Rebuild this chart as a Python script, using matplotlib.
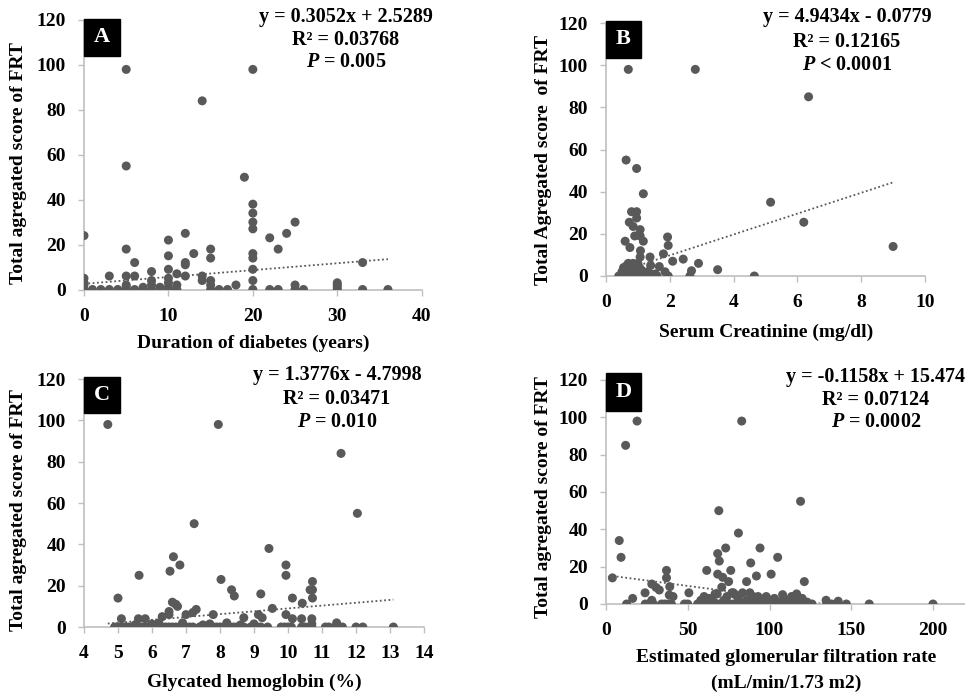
import matplotlib
matplotlib.use('Agg')
import matplotlib.pyplot as plt
from matplotlib.patches import Rectangle

plt.rcParams['font.family'] = 'Liberation Serif'
plt.rcParams['font.weight'] = 'bold'
plt.rcParams['font.size'] = 14
plt.rcParams['mathtext.fontset'] = 'custom'
plt.rcParams['mathtext.it'] = 'Liberation Serif:italic:bold'
plt.rcParams['mathtext.rm'] = 'Liberation Serif:bold'

W, H = 965, 694
DOT = '#595959'
AXC = '#BFBFBF'

# ---- A: duration of diabetes
dur_x = [0, 0, 0, 0, 0, 1, 2, 3, 3, 4, 5, 5, 5, 5, 5, 5, 5, 6, 6, 6, 7, 7, 8, 8, 8, 8, 9,
         10, 10, 10, 10, 10, 10, 10, 11, 11, 11, 12, 12, 12, 12, 13, 14, 14, 14,
         15, 15, 15, 15, 15, 16, 17, 18, 19, 20, 20, 20, 20, 20, 20, 20, 20, 20, 20,
         22, 22, 23, 23, 24, 25, 25, 25, 26, 30, 30, 30, 30, 33, 33, 36]
dur_y = [0, 2, 3, 5, 24, 0, 0, 0, 6, 0, 0, 1, 2, 6, 18, 55, 98, 0, 6, 12, 0, 1, 0, 2, 4, 8, 1,
         0, 1, 3, 5, 9, 15, 22, 0, 2, 7, 6, 11, 12, 25, 16, 4, 6, 84,
         0, 2, 4, 14, 18, 0, 0, 2, 50, 0, 4, 9, 14, 16, 27, 30, 34, 38, 98,
         0, 23, 0, 18, 25, 0, 2, 30, 0, 0, 1, 2, 3, 0, 12, 0]
dur_fit = (0.3052, 2.5289)

# ---- B: serum creatinine
cr_x = [0.7, 2.8, 6.35, 0.63, 0.96, 1.17, 5.16, 6.2, 9.0, 4.65, 3.5, 2.9, 2.68, 2.63, 2.42,
        2.09, 1.93, 1.95, 1.8, 1.85, 1.95, 1.67, 1.38,
        0.8, 0.96, 0.96, 0.73, 0.85, 1.07, 0.9, 1.07, 0.6, 1.17, 0.75, 1.08, 1.07,
        0.4, 0.45, 0.5, 0.5, 0.55, 0.55, 0.6, 0.6, 0.6, 0.65, 0.65, 0.65, 0.7, 0.7, 0.7, 0.7,
        0.75, 0.75, 0.75, 0.8, 0.8, 0.8, 0.8, 0.85, 0.85, 0.85, 0.9, 0.9, 0.9, 0.9,
        0.95, 0.95, 0.95, 1.0, 1.0, 1.0, 1.0, 1.05, 1.05, 1.05, 1.1, 1.1, 1.1, 1.15, 1.15,
        1.2, 1.2, 1.25, 1.3, 1.3, 1.35, 1.4, 1.4, 1.45, 1.5, 1.55, 1.6]
cr_y = [98, 98, 85, 55, 51, 39, 35, 25.5, 14, 0, 3, 6, 2.5, 0, 8,
        7, 18.5, 14.5, 10.5, 2, 0, 4.5, 9,
        30.5, 30.5, 27.5, 25.5, 23.5, 22, 19, 19, 16.5, 16.5, 13.5, 12, 9,
        0, 0, 0, 2, 0, 4, 0, 1, 3, 0, 2, 5, 0, 1, 3, 6,
        0, 2, 4, 0, 1, 3, 5, 0, 2, 6, 0, 1, 3, 4,
        0, 2, 5, 0, 1, 3, 6, 0, 2, 4, 0, 1, 3, 0, 2,
        0, 1, 0, 0, 2, 0, 1, 5, 0, 0, 1, 0]
cr_fit = (4.9434, -0.0779)

# ---- C: glycated hemoglobin
hb_x = [4.7, 7.95, 11.56, 12.04, 7.24, 9.44, 6.63, 6.82, 6.53, 5.62, 9.94, 9.94, 8.03, 10.72,
        10.65, 10.72, 10.72, 5.0, 8.34, 8.42, 9.2, 10.13, 10.42, 9.54, 6.6, 6.7, 6.75, 6.5,
        6.5, 6.3, 5.1, 5.6, 5.8, 7.3, 7.2, 7.8, 7.0, 8.7, 9.13, 9.24, 9.94, 10.13, 10.4,
        10.7, 10.7, 11.43, 5.5, 6.0, 6.9, 7.5, 8.2, 8.6, 9.0, 6.2, 7.7,
        4.9, 5.0, 5.1, 5.2, 5.3, 5.4, 5.5, 5.6, 5.7, 5.8, 5.9, 6.0, 6.1, 6.2, 6.3, 6.4,
        6.5, 6.6, 6.7, 6.8, 6.9, 7.0, 7.1, 7.2, 7.4, 7.5, 7.6, 7.7, 7.8, 7.9, 8.0, 8.1,
        8.2, 8.3, 8.4, 8.5, 8.6, 8.7, 8.9, 9.0, 9.1, 9.2, 9.4, 9.8, 9.9, 10.0, 10.1,
        10.4, 10.5, 10.7, 11.1, 11.2, 11.4, 11.6, 12.0, 12.2, 13.1]
hb_y = [98, 98, 84, 55, 50, 38, 34, 30, 27, 25, 30, 25, 23, 22,
        18, 18, 14, 14, 18, 15, 16, 14, 11.5, 9, 12, 11, 10, 7.5,
        6, 5, 4, 4, 4, 8.5, 7, 6, 6, 4.5, 6, 4.5, 6, 4, 4,
        4, 1.5, 2, 1, 1.5, 2, 1, 2, 1, 1.5, 2, 1.5,
        0, 0, 0, 0, 0, 0, 0, 0, 0, 0, 0, 0, 0, 0, 0, 0,
        0, 0, 0, 0, 0, 0, 0, 0, 0, 0, 0, 0, 0, 0, 0, 0,
        0, 0, 0, 0, 0, 0, 0, 0, 0, 0, 0, 0, 0, 0, 0,
        0, 0, 0, 0, 0, 0, 0, 0, 0, 0]
hb_fit = (1.3776, -4.7998)

# ---- D: eGFR
gfr_x = [19, 83, 12, 119, 69, 81, 8.1, 9.2, 3.9, 16.3, 23.9, 28, 30.6, 32.6, 37, 37, 39, 38.7,
         41, 28, 50.7, 61.6, 68.3, 69.3, 73.2, 68.3, 71.4, 75, 70.8, 66.7, 76.3, 77.9, 86,
         88.5, 94.2, 92, 101, 105, 121.3,
         58, 60, 63, 66, 68, 72, 74, 77, 79, 81, 83.5, 86, 88, 90, 92, 93, 95, 98, 100, 103,
         106, 108, 110, 113.5, 116.6, 118, 120, 123, 134.6, 142,
         12.6, 24, 26, 28, 29, 34, 36, 38, 40, 48, 50, 56, 58, 60, 62, 64, 66, 68, 70, 72,
         74, 76, 78, 80, 82, 84, 86, 88, 90, 92, 94, 96, 98, 100, 102, 104, 106, 108, 110,
         112, 114, 116, 118, 120, 122, 124, 126, 135, 138, 142, 147, 161, 200]
gfr_y = [98, 98, 85, 55, 50, 38, 34, 25, 14, 3, 6, 10.7, 8.9, 7.5, 18, 14, 9.3, 4.8,
         4, 2, 6, 18, 27, 23, 30, 16, 14.3, 12, 9, 5.4, 18, 6, 12,
         22, 30, 15, 16, 25, 12,
         2, 4, 3, 1, 5.4, 2, 4, 6, 5, 3, 6, 2, 6, 4, 2, 4, 1, 4, 2, 3,
         1, 5, 2, 4, 5.4, 2, 3, 1, 2, 1.5,
         0, 0, 0, 0, 0, 0, 0, 0, 0, 0, 0, 0, 0, 0, 0, 0, 0, 0, 0, 0,
         0, 0, 0, 0, 0, 0, 0, 0, 0, 0, 0, 0, 0, 0, 0, 0, 0, 0, 0,
         0, 0, 0, 0, 0, 0, 0, 0, 0, 0, 0, 0, 0, 0]
gfr_fit = (-0.1158, 15.474)

fig = plt.figure(figsize=(W / 100, H / 100), dpi=100)


def px_axes(left, top, right, bottom):
    return fig.add_axes([left / W, 1 - bottom / H, (right - left) / W, (bottom - top) / H])


def panel(ax, x, y, fit, xlim, xticks):
    ax.scatter(x, y, s=42, color=DOT, edgecolors='none', zorder=3)
    x0, x1 = min(x), max(x)
    ax.plot([x0, x1], [fit[0] * x0 + fit[1], fit[0] * x1 + fit[1]],
            color=DOT, lw=1.3, linestyle=(0, (1, 1.4)), zorder=2)
    ax.set_xlim(xlim)
    ax.set_ylim(0, 120)
    ax.set_xticks(xticks)
    ax.set_yticks(range(0, 121, 20))
    for s in ['top', 'right']:
        ax.spines[s].set_visible(False)
    for s in ['left', 'bottom']:
        ax.spines[s].set_color(AXC)
        ax.spines[s].set_linewidth(1.2)
    ax.tick_params(colors=AXC, labelcolor='black', length=4, width=1, pad=9, labelsize=14)
    for lab in ax.get_xticklabels() + ax.get_yticklabels():
        lab.set_fontweight('bold')


def letter(l, t, r, b, s):
    fig.add_artist(Rectangle((l / W, 1 - b / H), (r - l) / W, (b - t) / H,
                             transform=fig.transFigure, color='black', zorder=5))
    fig.text((l + r) / 2 / W, 1 - (t + b) / 2 / H, s, color='white', ha='center',
             va='center', fontsize=16, zorder=6)


def equation(cx, ys, lines):
    for yy, txt in zip(ys, lines):
        fig.text(cx / W, 1 - yy / H, txt, ha='center', va='center', fontsize=14.5)


axA = px_axes(84, 20, 421.7, 289.5)
panel(axA, dur_x, dur_y, dur_fit, (0, 40), [0, 10, 20, 30, 40])
axB = px_axes(606, 23, 925, 276)
panel(axB, cr_x, cr_y, cr_fit, (0, 10), [0, 2, 4, 6, 8, 10])
axC = px_axes(84, 379, 424, 627)
panel(axC, hb_x, hb_y, hb_fit, (4, 14), list(range(4, 15)))
axD = px_axes(606, 380, 965.7, 604)
panel(axD, gfr_x, gfr_y, gfr_fit, (0, 220), [0, 50, 100, 150, 200])

letter(84, 19, 120, 56, 'A')
letter(606, 21, 641, 58, 'B')
letter(84, 377, 120, 413, 'C')
letter(606, 373, 641, 411, 'D')

equation(346, [17, 40, 62], ['y = 0.3052x + 2.5289', 'R² = 0.03768', r'$P$ = 0.005'])
equation(847, [17, 42, 65], ['y = 4.9434x - 0.0779', 'R² = 0.12165', r'$P$ < 0.0001'])
equation(337, [375, 399, 422], ['y = 1.3776x - 4.7998', 'R² = 0.03471', r'$P$ = 0.010'])
equation(876, [377, 400, 422], ['y = -0.1158x + 15.474', 'R² = 0.07124', r'$P$ = 0.0002'])

# axis labels
fig.text(84 / W + 0.175, 1 - 343 / H, 'Duration of diabetes (years)', ha='center', va='center', fontsize=14)
fig.text(766 / W, 1 - 332 / H, 'Serum Creatinine (mg/dl)', ha='center', va='center', fontsize=14)
fig.text(254 / W, 1 - 682 / H, 'Glycated hemoglobin (%)', ha='center', va='center', fontsize=14)
fig.text(786 / W, 1 - 658 / H, 'Estimated glomerular filtration rate', ha='center', va='center', fontsize=14)
fig.text(786 / W, 1 - 683 / H, '(mL/min/1.73 m2)', ha='center', va='center', fontsize=14)

fig.text(19 / W, 1 - 163 / H, 'Total agregated score of FRT', rotation=90, ha='center', va='center', fontsize=14)
fig.text(544 / W, 1 - 160 / H, 'Total Agregated score  of FRT', rotation=90, ha='center', va='center', fontsize=14)
fig.text(19 / W, 1 - 510 / H, 'Total agregated score of FRT', rotation=90, ha='center', va='center', fontsize=14)
fig.text(544 / W, 1 - 497 / H, 'Total agregated score of FRT', rotation=90, ha='center', va='center', fontsize=14)

fig.savefig('out.png', dpi=100)
